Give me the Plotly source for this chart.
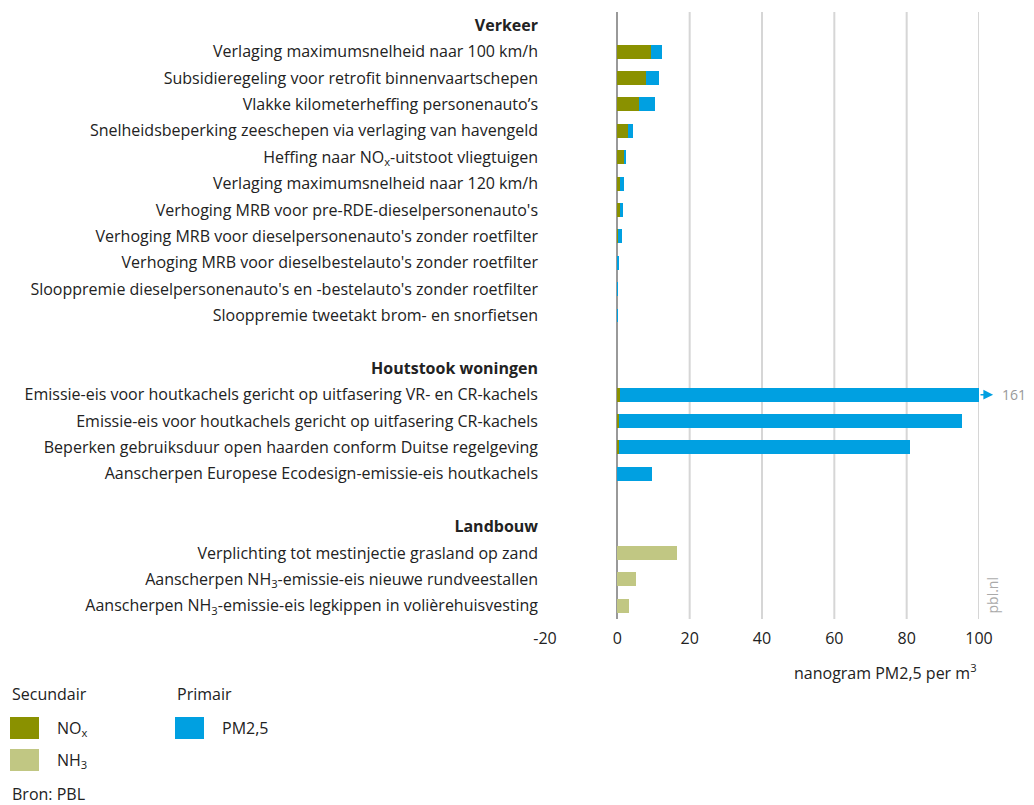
import plotly.graph_objects as go

# maatregelen (van boven naar beneden), lege regels scheiden de groepen
labels = [
    "<b>Verkeer</b>",
    "Verlaging maximumsnelheid naar 100 km/h",
    "Subsidieregeling voor retrofit binnenvaartschepen",
    "Vlakke kilometerheffing personenauto\u2019s",
    "Snelheidsbeperking zeeschepen via verlaging van havengeld",
    "Heffing naar NO<sub>x</sub>-uitstoot vliegtuigen",
    "Verlaging maximumsnelheid naar 120 km/h",
    "Verhoging MRB voor pre-RDE-dieselpersonenauto's",
    "Verhoging MRB voor dieselpersonenauto's zonder roetfilter",
    "Verhoging MRB voor dieselbestelauto's zonder roetfilter",
    "Slooppremie dieselpersonenauto's en -bestelauto's zonder roetfilter",
    "Slooppremie tweetakt brom- en snorfietsen",
    " ",
    "<b>Houtstook woningen</b>",
    "Emissie-eis voor houtkachels gericht op uitfasering VR- en CR-kachels",
    "Emissie-eis voor houtkachels gericht op uitfasering CR-kachels",
    "Beperken gebruiksduur open haarden conform Duitse regelgeving",
    "Aanscherpen Europese Ecodesign-emissie-eis houtkachels",
    "  ",
    "<b>Landbouw</b>",
    "Verplichting tot mestinjectie grasland op zand",
    "Aanscherpen NH<sub>3</sub>-emissie-eis nieuwe rundveestallen",
    "Aanscherpen NH<sub>3</sub>-emissie-eis legkippen in volièrehuisvesting",
]

# nanogram PM2,5 per m3
nox = [None, 9.4, 7.8, 6.1, 3.0, 1.9, 0.8, 0.7, 0.2, 0.1, 0, 0,
       None, None, 0.7, 0.5, 0.5, 0, None, None, 0, 0, 0]
nh3 = [None, 0, 0, 0, 0, 0, 0, 0, 0, 0, 0, 0,
       None, None, 0, 0, 0, 0, None, None, 16.6, 5.2, 3.3]
pm25 = [None, 3.0, 3.8, 4.4, 1.4, 0.6, 1.1, 0.9, 1.2, 0.2, 0.05, 0.05,
        None, None, 160.3, 94.8, 80.5, 9.6, None, None, 0, 0, 0]

series = [("NO<sub>x</sub>", nox, "#8a9100"),
          ("NH<sub>3</sub>", nh3, "#c1c783"),
          ("PM2,5", pm25, "#00a0e1")]

x_ticks = [-20, 0, 20, 40, 60, 80, 100]
x_max = 100
font = "Open Sans"
fs = 16

fig = go.Figure()
for name, vals, col in series:
    fig.add_trace(go.Bar(y=labels, x=vals, orientation="h", name=name,
                         marker=dict(color=col, line=dict(width=0)),
                         width=0.53, showlegend=False))

# rasterlijnen (niet op -20)
for t in x_ticks:
    if t > 0:
        fig.add_vline(x=t, line=dict(color="#d6d6d6", width=2), layer="below")

# pagina heeft 8px body-marge; omrekenen van pixels naar paper-coordinaten
def px(x):
    return (x - 545) / 434

def py(y):
    return (619 - y) / 607

# balk die buiten de schaal valt
big_row = labels[14]
big_total = nox[14] + pm25[14]
fig.add_annotation(x=x_max + 3.9, y=big_row, ax=x_max, axref="x", ay=0,
                   text="", showarrow=True, arrowhead=2, arrowsize=1.3,
                   arrowwidth=1.5, arrowcolor="#00a0e1")
fig.add_annotation(x=px(1001), y=big_row, xref="paper", text=f"{big_total:.0f}",
                   showarrow=False, xanchor="left", borderpad=0,
                   font=dict(family=font, size=14, color="#999999"))

# pbl.nl
fig.add_annotation(x=px(1003), y=py(616), xref="paper", yref="paper", text="pbl.nl",
                   textangle=-90, showarrow=False,
                   font=dict(family=font, size=14, color="#aaaaaa"))

# as-titel
fig.add_annotation(x=1, y=py(672), xref="paper", yref="paper", xanchor="right",
                   yanchor="middle", showarrow=False,
                   text="nanogram PM2,5 per m<sup>3</sup>",
                   font=dict(family=font, size=fs, color="#222222"))

# legenda
legend_items = [("Secundair", 10, [(series[0], 717), (series[1], 749)]),
                ("Primair", 175, [(series[2], 717)])]
for title, lx, items in legend_items:
    fig.add_annotation(x=px(lx), y=py(694), xref="paper", yref="paper",
                       xanchor="left", yanchor="middle", showarrow=False,
                       text=title, font=dict(family=font, size=fs, color="#222222"))
    for (name, vals, col), ty in items:
        fig.add_shape(type="rect", xref="paper", yref="paper",
                      x0=px(lx), x1=px(lx + 29), y0=py(ty), y1=py(ty + 22),
                      fillcolor=col, line=dict(width=0))
        fig.add_annotation(x=px(lx + 45), y=py(ty + 11), xref="paper", yref="paper",
                           xanchor="left", yanchor="middle", showarrow=False,
                           text=name, font=dict(family=font, size=fs, color="#222222"))

fig.add_annotation(x=px(10), y=py(794), xref="paper", yref="paper",
                   xanchor="left", yanchor="middle", showarrow=False,
                   text="Bron: PBL", font=dict(family=font, size=fs, color="#222222"))

fig.update_layout(
    width=1026, height=797,
    margin=dict(l=537, r=55, t=4, b=186, autoexpand=False),
    barmode="stack",
    plot_bgcolor="white", paper_bgcolor="white",
    font=dict(family=font, size=fs, color="#222222"),
    xaxis=dict(range=[-20, x_max], tickvals=x_ticks,
               ticktext=[str(t) for t in x_ticks], showgrid=False,
               zeroline=True, zerolinecolor="#999999", zerolinewidth=2,
               showline=False, ticks="", tickfont=dict(size=fs),
               ticklabelstandoff=8),
    yaxis=dict(categoryorder="array", categoryarray=labels, autorange="reversed",
               showgrid=False, ticks="", tickfont=dict(size=fs),
               ticklabelstandoff=6),
)

fig.write_html("out.html")
